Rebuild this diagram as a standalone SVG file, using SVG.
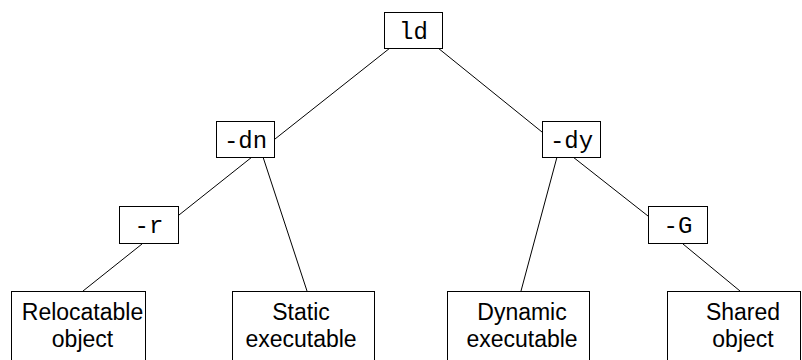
<svg xmlns="http://www.w3.org/2000/svg" width="802" height="360" viewBox="0 0 802 360">
<style>
.box{fill:#fff;stroke:#000;stroke-width:1}
.mono{font-family:"Liberation Mono","Courier New",monospace;font-size:24px;fill:#000;text-anchor:middle}
.sans{font-family:"Liberation Sans",Arial,sans-serif;font-size:23px;fill:#000;text-anchor:middle}
.edge{stroke:#000;stroke-width:1;fill:none}
</style>
<rect width="802" height="360" fill="#fff"/>
<g id="connectors">
<line class="edge" x1="390" y1="48" x2="275" y2="139"/>
<line class="edge" x1="438" y1="48" x2="542" y2="132"/>
<line class="edge" x1="252" y1="157" x2="179" y2="215"/>
<line class="edge" x1="263" y1="157" x2="307" y2="291"/>
<line class="edge" x1="557" y1="157" x2="521" y2="291"/>
<line class="edge" x1="573" y1="157" x2="648" y2="216"/>
<line class="edge" x1="142" y1="244" x2="83" y2="291"/>
<line class="edge" x1="683" y1="244" x2="740" y2="291"/>
</g>
<g id="ld"><rect class="box" x="384.5" y="12.5" width="58" height="36"/><text class="mono" x="413.5" y="38.5">ld</text></g>
<g id="dn"><rect class="box" x="216.5" y="121.5" width="58" height="36"/><text class="mono" x="245.5" y="147.5">-dn</text></g>
<g id="dy"><rect class="box" x="542.5" y="121.5" width="58" height="36"/><text class="mono" x="571.5" y="147.5">-dy</text></g>
<g id="r"><rect class="box" x="119.5" y="206.5" width="59" height="37"/><text class="mono" x="149" y="233">-r</text></g>
<g id="G"><rect class="box" x="648.5" y="206.5" width="59" height="37"/><text class="mono" x="678" y="233">-G</text></g>
<g id="relocatable"><rect class="box" x="11.5" y="291.5" width="134" height="80"/><text class="sans" x="82.5" y="320">Relocatable</text><text class="sans" x="82.5" y="347">object</text></g>
<g id="static"><rect class="box" x="232.5" y="291.5" width="142" height="80"/><text class="sans" x="301" y="320">Static</text><text class="sans" x="301" y="347">executable</text></g>
<g id="dynamic"><rect class="box" x="447.5" y="291.5" width="142" height="80"/><text class="sans" x="522" y="320">Dynamic</text><text class="sans" x="522" y="347">executable</text></g>
<g id="shared"><rect class="box" x="667.5" y="291.5" width="133" height="80"/><text class="sans" x="743" y="320">Shared</text><text class="sans" x="743" y="347">object</text></g>
</svg>
